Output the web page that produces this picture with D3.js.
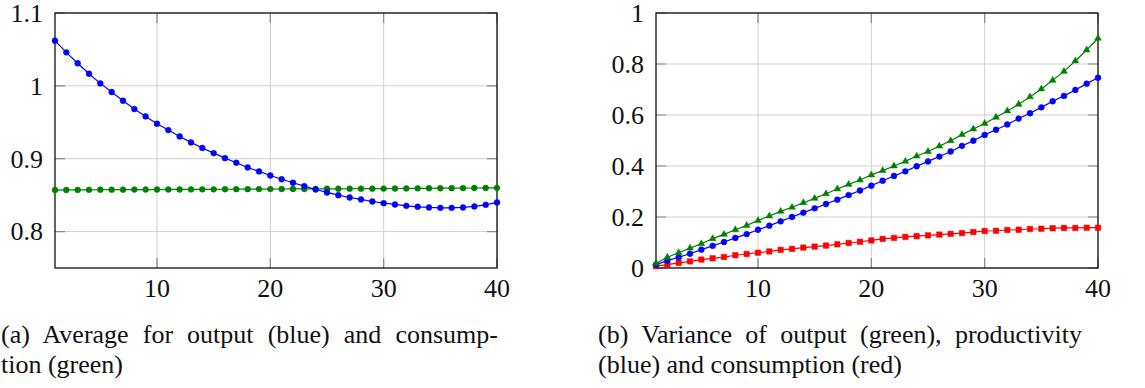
<!DOCTYPE html>
<html><head><meta charset="utf-8">
<script src="https://cdn.jsdelivr.net/npm/d3@7"></script>
<style>body{margin:0;background:#fff}svg{display:block}</style>
</head><body>
<svg id="c" width="1145" height="388"></svg>
<script>
const periods = d3.range(1, 41);
const xTicks = [10, 20, 30, 40];
const aYTicks = [0.8, 0.9, 1, 1.1];
const aYLabels = ["0.8", "0.9", "1", "1.1"];
const bYTicks = [0, 0.2, 0.4, 0.6, 0.8, 1];
const bYLabels = ["0", "0.2", "0.4", "0.6", "0.8", "1"];
const avgOutput = [1.062,1.046,1.031,1.0166,1.0034,0.9915,0.9795,0.9681,0.9581,0.948,0.9393,0.9306,0.9224,0.9148,0.9077,0.9008,0.8944,0.888,0.8826,0.877,0.8718,0.867,0.8624,0.8578,0.8537,0.85,0.8468,0.8441,0.8413,0.839,0.8372,0.8353,0.834,0.8331,0.8326,0.8326,0.8331,0.8345,0.8367,0.84];
const avgConsumption = [0.8570,0.8571,0.8572,0.8573,0.8574,0.8575,0.8575,0.8576,0.8577,0.8577,0.8578,0.8578,0.8579,0.8580,0.8580,0.8581,0.8582,0.8582,0.8583,0.8583,0.8584,0.8585,0.8585,0.8586,0.8587,0.8587,0.8588,0.8589,0.8589,0.8590,0.8591,0.8592,0.8593,0.8594,0.8595,0.8596,0.8597,0.8598,0.8599,0.8600];
const varOutput = [0.018,0.042,0.06,0.078,0.095,0.115,0.132,0.150,0.167,0.186,0.204,0.222,0.238,0.256,0.273,0.291,0.31,0.328,0.345,0.365,0.382,0.4,0.418,0.439,0.457,0.478,0.499,0.523,0.545,0.567,0.591,0.616,0.642,0.671,0.702,0.736,0.771,0.812,0.855,0.901];
const varProductivity = [0.013,0.029,0.042,0.056,0.072,0.087,0.102,0.118,0.133,0.150,0.166,0.183,0.2,0.217,0.234,0.251,0.268,0.286,0.304,0.323,0.342,0.361,0.379,0.399,0.418,0.437,0.457,0.479,0.499,0.522,0.542,0.563,0.586,0.607,0.630,0.654,0.675,0.698,0.723,0.746];
const varConsumption = [0.007,0.013,0.02,0.026,0.033,0.038,0.043,0.05,0.055,0.06,0.065,0.071,0.075,0.08,0.084,0.088,0.093,0.098,0.103,0.108,0.114,0.118,0.122,0.125,0.128,0.131,0.134,0.137,0.141,0.145,0.146,0.149,0.150,0.153,0.154,0.156,0.157,0.157,0.158,0.158];

const svg = d3.select("#c");
const FONT = "'Liberation Serif'";
function txt(sel, fs) { return sel.style("font-family", FONT).style("font-size", fs + "px").style("fill", "#111"); }

function panel(cfg) {
  const x = d3.scaleLinear().domain([1, 40]).range([cfg.left, cfg.right]);
  const y = d3.scaleLinear().domain(cfg.yDomain).range([cfg.bottom, cfg.top]);
  const g = svg.append("g");
  g.selectAll(null).data(xTicks).enter().append("line")
    .attr("x1", d => x(d)).attr("x2", d => x(d)).attr("y1", cfg.top).attr("y2", cfg.bottom)
    .attr("stroke", "#cfcfcf").attr("stroke-width", 1);
  g.selectAll(null).data(cfg.yTicks).enter().append("line")
    .attr("y1", d => y(d)).attr("y2", d => y(d)).attr("x1", cfg.left).attr("x2", cfg.right)
    .attr("stroke", "#cfcfcf").attr("stroke-width", 1);
  const tl = 10, tc = "#888";
  g.selectAll(null).data(xTicks).enter().append("path")
    .attr("d", d => `M${x(d)},${cfg.bottom}v${-tl}M${x(d)},${cfg.top}v${tl}`)
    .attr("stroke", tc).attr("stroke-width", 1.2);
  g.selectAll(null).data(cfg.yTicks).enter().append("path")
    .attr("d", d => `M${cfg.left},${y(d)}h${tl}M${cfg.right},${y(d)}h${-tl}`)
    .attr("stroke", tc).attr("stroke-width", 1.2);
  g.append("rect").attr("x", cfg.left).attr("y", cfg.top)
    .attr("width", cfg.right - cfg.left).attr("height", cfg.bottom - cfg.top)
    .attr("fill", "none").attr("stroke", "#111").attr("stroke-width", 1.3);
  txt(g.selectAll(null).data(xTicks).enter().append("text")
    .attr("x", d => x(d)).attr("y", cfg.bottom + 29).attr("text-anchor", "middle"), 26).text(d => d);
  txt(g.selectAll(null).data(cfg.yTicks).enter().append("text")
    .attr("x", cfg.left - 12).attr("y", d => y(d)).attr("dy", "0.34em").attr("text-anchor", "end"), 26)
    .text((d, i) => cfg.yLabels[i]);
  const line = d3.line().x((d, i) => x(periods[i])).y(d => y(d));
  cfg.series.forEach(s => {
    g.append("path").datum(s.values).attr("d", line).attr("fill", "none")
      .attr("stroke", s.color).attr("stroke-width", 1.2);
    const sym = d3.symbol().type(s.symbol).size(s.size);
    g.selectAll(null).data(s.values).enter().append("path")
      .attr("d", sym)
      .attr("transform", (d, i) => `translate(${x(periods[i])},${y(d)})`)
      .attr("fill", s.color).attr("stroke", s.color).attr("stroke-width", 0.5);
  });
  const l1 = txt(svg.append("text").attr("x", cfg.capX).attr("y", 343), 26).text(cfg.caption[0]);
  const nat = l1.node().getComputedTextLength();
  const spaces = (cfg.caption[0].match(/ /g) || []).length;
  l1.style("word-spacing", ((cfg.capW - nat) / spaces) + "px");
  txt(svg.append("text").attr("x", cfg.capX).attr("y", 373), 26).text(cfg.caption[1]);
}

panel({
  left: 55, right: 497, top: 13, bottom: 268, yDomain: [0.75, 1.1],
  yTicks: aYTicks, yLabels: aYLabels,
  series: [
    {values: avgConsumption, color: "#008000", symbol: d3.symbolCircle, size: 27},
    {values: avgOutput, color: "#0000ff", symbol: d3.symbolCircle, size: 27}
  ],
  capX: 1, capW: 497,
  caption: ["(a) Average for output (blue) and consump-", "tion (green)"]
});
panel({
  left: 656, right: 1098, top: 13, bottom: 268, yDomain: [0, 1],
  yTicks: bYTicks, yLabels: bYLabels,
  series: [
    {values: varConsumption, color: "#ff0000", symbol: d3.symbolSquare, size: 30},
    {values: varProductivity, color: "#0000ff", symbol: d3.symbolCircle, size: 27},
    {values: varOutput, color: "#008000", symbol: d3.symbolTriangle, size: 20}
  ],
  capX: 598, capW: 484,
  caption: ["(b) Variance of output (green), productivity", "(blue) and consumption (red)"]
});
</script>
</body></html>
